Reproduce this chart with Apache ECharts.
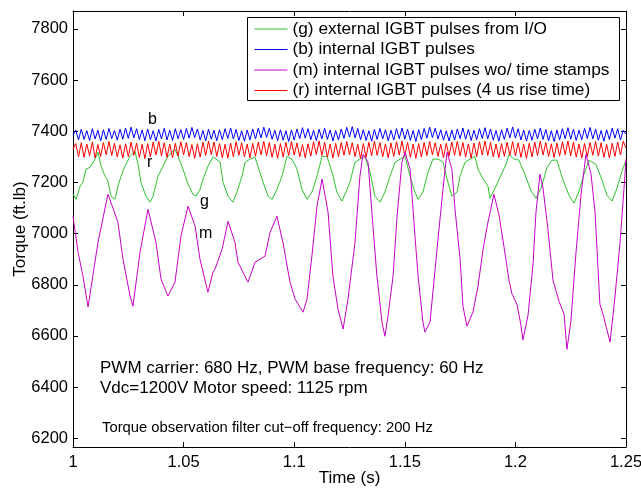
<!doctype html>
<html lang="en">
<head>
    <meta charset="UTF-8">
    <title>Torque</title>
    <style>
        *{margin: 0; padding: 0}
        #block{width: 641px; height: 489px}
    </style>
</head>
<body>
<div id="block"></div>

<script src="https://cdn.jsdelivr.net/npm/echarts@6/dist/echarts.min.js"></script>
<script>
    // data
    const seriesNames = [
        '(g) external IGBT pulses from I/O',
        '(b) internal IGBT pulses',
        '(m) internal IGBT pulses wo/ time stamps',
        '(r) internal IGBT pulses (4 us rise time)'
    ];
    const xTicks = [1, 1.05, 1.1, 1.15, 1.2, 1.25];
    const yTicks = [6200, 6400, 6600, 6800, 7000, 7200, 7400, 7600, 7800];

    // (g) external pulses
    const gTime = [1.0000,1.0014,1.0032,1.0045,1.0059,1.0077,1.0099,1.0113,1.0127,1.0145,1.0158,1.0172,1.0190,1.0203,1.0217,1.0235,1.0258,1.0280,1.0294,1.0307,
        1.0330,1.0348,1.0362,1.0384,1.0407,1.0429,1.0461,1.0475,1.0497,1.0520,1.0542,1.0556,1.0574,1.0588,1.0610,1.0633,1.0665,1.0678,1.0701,1.0723,
        1.0741,1.0764,1.0778,1.0800,1.0823,1.0836,1.0859,1.0882,1.0900,1.0922,1.0945,1.0967,1.0990,1.1013,1.1035,1.1058,1.1080,1.1103,1.1126,1.1148,
        1.1171,1.1193,1.1216,1.1239,1.1252,1.1275,1.1297,1.1320,1.1343,1.1365,1.1388,1.1410,1.1433,1.1456,1.1478,1.1501,1.1524,1.1546,1.1560,1.1582,
        1.1605,1.1627,1.1650,1.1673,1.1691,1.1713,1.1736,1.1750,1.1772,1.1795,1.1817,1.1831,1.1854,1.1876,1.1885,1.1908,1.1930,1.1958,1.1971,1.1994,
        1.2016,1.2048,1.2071,1.2093,1.2116,1.2143,1.2166,1.2188,1.2211,1.2242,1.2265,1.2288,1.2310,1.2333,1.2364,1.2387,1.2414,1.2437,1.2459,1.2482,1.2500];
    const gTorque = [7154,7134,7185,7201,7252,7259,7291,7318,7263,7224,7205,7146,7134,7185,7224,7263,7302,7322,7271,7201,
        7146,7123,7146,7224,7263,7302,7330,7302,7252,7193,7154,7146,7173,7213,7263,7300,7279,7201,7146,7123,
        7162,7224,7279,7291,7298,7263,7201,7146,7134,7173,7224,7302,7291,7252,7173,7134,7162,7224,7302,7302,
        7240,7162,7127,7173,7201,7279,7291,7302,7240,7146,7123,7162,7224,7279,7291,7302,7224,7162,7134,7162,
        7240,7291,7291,7279,7213,7146,7162,7224,7279,7291,7302,7252,7213,7185,7138,7177,7220,7271,7310,7291,
        7287,7220,7166,7138,7177,7259,7287,7287,7220,7150,7119,7166,7232,7287,7271,7220,7150,7127,7177,7244,7287];

    // (m) internal pulses without time stamps
    const mTime = [1.0000,1.0023,1.0045,1.0068,1.0113,1.0158,1.0203,1.0226,1.0258,1.0271,1.0303,1.0339,1.0375,1.0398,1.0429,1.0461,1.0488,1.0520,1.0552,1.0574,
        1.0610,1.0633,1.0642,1.0674,1.0701,1.0732,1.0746,1.0791,1.0823,1.0868,1.0891,1.0922,1.0949,1.0981,1.1004,1.1040,1.1058,1.1080,1.1103,1.1126,
        1.1153,1.1175,1.1198,1.1221,1.1243,1.1252,1.1275,1.1297,1.1311,1.1334,1.1356,1.1374,1.1397,1.1410,1.1424,1.1447,1.1465,1.1487,1.1501,1.1524,
        1.1546,1.1560,1.1582,1.1591,1.1614,1.1637,1.1659,1.1682,1.1691,1.1713,1.1727,1.1750,1.1763,1.1781,1.1808,1.1831,1.1854,1.1876,1.1903,1.1926,
        1.1948,1.1971,1.1985,1.2007,1.2025,1.2034,1.2057,1.2080,1.2093,1.2111,1.2125,1.2147,1.2170,1.2197,1.2220,1.2233,1.2251,1.2274,1.2297,1.2319,
        1.2342,1.2360,1.2382,1.2396,1.2428,1.2450,1.2473,1.2491,1.2500];
    const mTorque = [7068,6927,6834,6713,6966,7154,7045,6900,6756,6716,6927,7095,6966,6822,6756,6810,6990,7107,7029,6900,
        6771,6849,6861,6939,7048,6966,6888,6810,6888,6912,7005,7068,6966,6810,6744,6693,6744,6912,7107,7213,
        7084,6834,6705,6627,6744,6744,6966,7224,7310,7279,7029,6834,6654,6599,6677,6834,7068,7279,7318,7252,
        6990,6834,6654,6615,6654,6861,7056,7252,7318,7252,7095,6900,6716,6638,6693,6795,6939,7045,7154,7072,
        6951,6818,6763,6724,6642,6584,6681,6884,7084,7232,7177,7017,6818,6736,6685,6548,6658,6927,7154,7310,
        7232,7084,6724,6685,6576,6752,6963,7177,7291];

    // (b) and (r): carrier ripple, sampled every 1.25 ms from t = 1 s
    const rippleStart = 1;
    const rippleStep = 0.00125;
    const bTorque = [7385,7405,7366,7408,7368,7402,7364,7410,7370,7404,
        7362,7406,7368,7411,7371,7403,7365,7408,7369,7413,
        7372,7416,7374,7410,7368,7405,7363,7409,7367,7402,
        7362,7407,7370,7412,7366,7404,7364,7410,7371,7406,
        7368,7411,7373,7415,7375,7409,7366,7403,7362,7408,
        7369,7404,7363,7406,7367,7410,7372,7413,7370,7407,
        7364,7402,7361,7405,7366,7409,7370,7412,7374,7416,
        7376,7411,7369,7404,7363,7406,7365,7402,7360,7405,
        7366,7409,7371,7414,7373,7410,7367,7404,7364,7408,
        7370,7412,7368,7405,7362,7403,7366,7409,7372,7415,
        7377,7418,7374,7411,7367,7406,7364,7402,7361,7407,
        7368,7411,7370,7406,7363,7404,7366,7410,7371,7413,
        7369,7408,7364,7403,7360,7406,7367,7411,7373,7416,
        7375,7412,7370,7406,7365,7402,7362,7405,7366,7409,
        7371,7413,7369,7407,7364,7404,7367,7410,7372,7414,
        7370,7409,7365,7403,7361,7406,7368,7412,7374,7417,
        7373,7410,7366,7405,7362,7403,7365,7408,7370,7413,
        7368,7407,7363,7402,7360,7405,7366,7410,7371,7414,
        7369,7408,7364,7404,7367,7411,7372,7415,7370,7409,
        7365,7403,7361,7406,7368,7412,7373,7410,7366,7404,
        7388];
    const rTorque = [7330,7352,7300,7355,7298,7350,7304,7358,7296,7348,
        7302,7356,7308,7360,7305,7353,7299,7347,7295,7351,
        7301,7357,7306,7354,7297,7349,7293,7352,7300,7358,
        7307,7361,7304,7355,7298,7350,7296,7353,7303,7359,
        7308,7356,7301,7348,7294,7351,7299,7357,7305,7362,
        7309,7358,7302,7352,7297,7349,7295,7354,7301,7359,
        7306,7355,7300,7350,7296,7353,7302,7358,7308,7361,
        7304,7356,7298,7349,7294,7352,7299,7357,7305,7360,
        7307,7354,7300,7348,7296,7351,7303,7359,7309,7362,
        7305,7357,7299,7350,7295,7353,7300,7356,7306,7360,
        7308,7355,7301,7349,7293,7352,7298,7357,7304,7361,
        7306,7356,7300,7351,7296,7354,7302,7359,7307,7362,
        7304,7357,7298,7350,7294,7352,7300,7356,7305,7360,
        7308,7355,7302,7349,7297,7353,7303,7358,7306,7361,
        7303,7356,7299,7351,7295,7354,7301,7359,7307,7362,
        7305,7357,7300,7350,7296,7352,7302,7357,7306,7360,
        7304,7355,7298,7349,7294,7353,7300,7358,7305,7361,
        7307,7356,7301,7351,7297,7354,7303,7359,7308,7362,
        7304,7357,7299,7350,7295,7352,7301,7356,7306,7360,
        7303,7355,7298,7349,7296,7353,7302,7358,7307,7361,
        7335];
</script>
<script>
    const font = '"Liberation Sans", Arial, sans-serif';
    const pair = (times, vals) => vals.map((v, i) => [times[i], v]);
    const ripple = vals => vals.map((v, i) => [rippleStart + i * rippleStep, v]);

    const colors = ['#2dc12d', '#0000ff', '#c800c8', '#ff0000'];
    const seriesData = [pair(gTime, gTorque), ripple(bTorque), pair(mTime, mTorque), ripple(rTorque)];

    const chart = echarts.init(document.getElementById('block'));
    const xBase = {
        type: 'value', min: 1, max: 1.25, interval: 0.05,
        axisLine: {lineStyle: {color: '#000', width: 1}},
        axisTick: {inside: true, length: 5, lineStyle: {color: '#000'}},
        splitLine: {show: false}
    };
    const yBase = {
        type: 'value', min: 6166, max: 7870,
        axisLine: {show: true, lineStyle: {color: '#000', width: 1}},
        axisTick: {inside: true, length: 5, customValues: yTicks, lineStyle: {color: '#000'}},
        splitLine: {show: false}
    };
    const option = {
        animation: false,
        backgroundColor: '#fff',
        grid: {left: 73, right: 15, top: 11, bottom: 42, outerBoundsMode: 'none'},
        xAxis: [
            Object.assign({}, xBase, {
                position: 'bottom',
                name: 'Time (s)', nameLocation: 'middle', nameGap: 23, nameMoveOverlap: false,
                nameTextStyle: {fontSize: 17, color: '#000', fontFamily: font},
                axisLabel: {fontSize: 16.5, color: '#000', fontFamily: font, margin: 7,
                    customValues: xTicks, formatter: v => String(+v.toFixed(2))}
            }),
            Object.assign({}, xBase, {position: 'top', axisLabel: {show: false}})
        ],
        yAxis: [
            Object.assign({}, yBase, {
                position: 'left',
                name: 'Torque (ft.lb)', nameLocation: 'middle', nameGap: 44, nameMoveOverlap: false,
                nameTextStyle: {fontSize: 17, color: '#000', fontFamily: font},
                axisLabel: {fontSize: 16.5, color: '#000', fontFamily: font, margin: 5,
                    customValues: yTicks, formatter: v => String(Math.round(v))}
            }),
            Object.assign({}, yBase, {position: 'right', axisLabel: {show: false}})
        ],
        legend: {
            orient: 'vertical', left: 254, top: 19, z: 10,
            padding: 0, itemWidth: 33, itemHeight: 12, itemGap: 0.5,
            itemStyle: {opacity: 0},
            lineStyle: {width: 1, color: 'inherit'},
            textStyle: {fontSize: 17.3, lineHeight: 20, color: '#000', fontFamily: font},
            data: seriesNames
        },
        series: seriesNames.map((name, i) => ({
            name: name, type: 'line', data: seriesData[i],
            symbol: 'none', z: i === 2 ? 4 : 3,
            lineStyle: {color: colors[i], width: 1},
            itemStyle: {color: colors[i]}
        })),
        graphic: [
            {type: 'rect', left: 247, top: 17, z: 5, shape: {width: 372, height: 83},
                style: {fill: '#fff', stroke: '#000', lineWidth: 1}},
            {type: 'text', left: 148, top: 112, style: {text: 'b', font: '16px ' + font, fill: '#000'}},
            {type: 'text', left: 147, top: 155, style: {text: 'r', font: '16px ' + font, fill: '#000'}},
            {type: 'text', left: 200, top: 194, style: {text: 'g', font: '16px ' + font, fill: '#000'}},
            {type: 'text', left: 199, top: 226, style: {text: 'm', font: '16px ' + font, fill: '#000'}},
            {type: 'text', left: 100, top: 360, style: {text: 'PWM carrier: 680 Hz, PWM base frequency: 60 Hz', font: '17px ' + font, fill: '#000'}},
            {type: 'text', left: 100, top: 380, style: {text: 'Vdc=1200V Motor speed: 1125 rpm', font: '17px ' + font, fill: '#000'}},
            {type: 'text', left: 102, top: 420, style: {text: 'Torque observation filter cut\u2212off frequency: 200 Hz', font: '14.8px ' + font, fill: '#000'}}
        ]
    };
    chart.setOption(option);
</script>
</body>
</html>
